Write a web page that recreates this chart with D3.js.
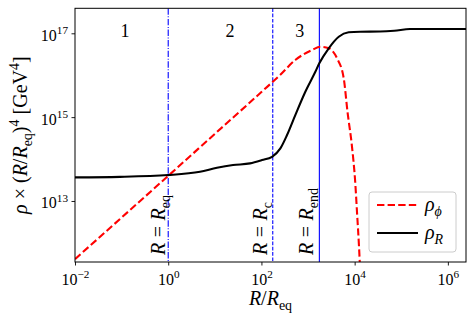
<!DOCTYPE html>
<html>
<head>
<meta charset="utf-8">
<script src="https://cdn.jsdelivr.net/npm/d3@7"></script>
<style>
  html, body { margin: 0; padding: 0; background: #fff; }
  svg { display: block; }
</style>
</head>
<body>
<svg id="chart" width="474" height="322"></svg>
<script>
// ---------------- data ----------------
// rho_R (radiation) : R / R_eq  and  rho x (R/R_eq)^4 in GeV^4
const radR   = [0.01, 0.0925, 1, 4.81, 11.1, 24.6, 56.9, 103, 169, 255, 354, 533, 875, 1435, 1746, 2780, 4560, 7460, 13060, 35100, 70800, 154500, 681000, 2450000];
const radRho = [3.66e13, 3.76e13, 4.15e13, 4.98e13, 6.19e13, 7.19e13, 7.89e13, 9.46e13, 1.135e14, 1.80e14, 3.74e14, 1.12e15, 4.04e15, 1.21e16, 1.92e16, 4.39e16, 8.30e16, 1.057e17, 1.09e17, 1.10e17, 1.15e17, 1.27e17, 1.27e17, 1.27e17];
// rho_phi (scalar field)
const phiR   = [0.01, 1, 10, 100, 251, 533, 1219, 1837, 2780, 4190, 5830, 7080, 8790, 10210, 11270, 12420, 13710];
const phiRho = [4.1e11, 3.98e13, 3.98e14, 3.98e15, 1.01e16, 2.31e16, 3.99e16, 4.79e16, 4.39e16, 2.53e16, 8.43e15, 1.25e15, 1.93e14, 3.16e13, 5.14e12, 7.94e11, 7.4e10];

// vertical markers
const markerR     = [1, 175, 1750];
const markerSub   = ["eq", "c", "end"];
const markerStyle = ["dashdot", "dashed", "solid"];

// region numbers
const regionText = ["1", "2", "3"];
const regionR    = [0.118, 21.2, 660];

// ticks
const xTicks = [1e-2, 1e0, 1e2, 1e4, 1e6];
const xTickExp = ["\u22122", "0", "2", "4", "6"];
const yTicks = [1e13, 1e15, 1e17];
const yTickExp = ["13", "15", "17"];

// ---------------- layout ----------------
const FONT = "'Liberation Serif', 'Times New Roman', 'DejaVu Serif', serif";
const L = 75, R = 466, T = 8.3, B = 262;
const svg = d3.select("#chart");

const x = d3.scaleLog().domain([1e-2, 2.45e6]).range([L, R]);
const y = d3.scaleLog().domain([3.5e11, 3.95e17]).range([B, T]);

function newText(parent) {
  return parent.append("text").attr("font-family", FONT).attr("fill", "#000");
}

// math text helper
function mathText(sel, parts, size) {
  let off = 0;
  sel.attr("font-family", FONT).attr("fill", "#000");
  parts.forEach(p => {
    let target = 0, fs = size;
    if (p.sub) { target = 0.24 * size; fs = 0.7 * size; }
    if (p.sup) { target = -0.42 * size; fs = 0.7 * size; }
    const ts = sel.append("tspan").text(p.t)
      .attr("font-family", FONT)
      .attr("font-size", fs)
      .attr("font-style", p.i ? "italic" : "normal");
    if (target - off !== 0) ts.attr("dy", target - off);
    if (p.dx) ts.attr("dx", p.dx);
    off = target;
  });
}

// clip
svg.append("defs").append("clipPath").attr("id", "clip")
  .append("rect").attr("x", L).attr("y", T).attr("width", R - L).attr("height", B - T);

const plot = svg.append("g").attr("clip-path", "url(#clip)");

// vertical markers
const dashMap = { dashdot: "6.4,1.6,1,1.6", dashed: "3.7,1.6", solid: null };
markerR.forEach((m, i) => {
  plot.append("line")
    .attr("x1", x(m)).attr("x2", x(m)).attr("y1", T).attr("y2", B)
    .attr("stroke", "#0000ff").attr("stroke-width", 1.1)
    .attr("stroke-dasharray", dashMap[markerStyle[i]]);
});

// curves
const line = d3.line().x(d => x(d[0])).y(d => y(d[1])).curve(d3.curveMonotoneX);
plot.append("path")
  .datum(phiR.map((r, i) => [r, phiRho[i]]))
  .attr("d", line).attr("fill", "none")
  .attr("stroke", "#ff0000").attr("stroke-width", 2.1)
  .attr("stroke-dasharray", "7.4,3.2");
plot.append("path")
  .datum(radR.map((r, i) => [r, radRho[i]]))
  .attr("d", line).attr("fill", "none")
  .attr("stroke", "#000").attr("stroke-width", 2.1);

// marker labels (rotated)
const markerDx = [-3.3, -5.7, -6];
markerR.forEach((m, i) => {
  const t = newText(svg)
    .attr("transform", `translate(${x(m) + markerDx[i]},255) rotate(-90)`)
    .attr("text-anchor", "start");
  mathText(t, [
    { t: "R", i: true },
    { t: "=", dx: 5.5 },
    { t: "R", i: true, dx: 5.5 },
    { t: markerSub[i], sub: true }
  ], 20);
});

// region labels
regionText.forEach((s, i) => {
  newText(svg).attr("x", x(regionR[i])).attr("y", 37)
    .attr("text-anchor", "middle").attr("font-size", 18).text(s);
});

// axes
const xAxis = svg.append("g").attr("transform", `translate(0,${B})`)
  .call(d3.axisBottom(x).tickValues(xTicks).tickSize(3.5).tickFormat(""));
xAxis.select(".domain").remove();
xAxis.selectAll(".tick line").attr("stroke", "#000").attr("stroke-width", 0.9);
xAxis.selectAll(".tick").each(function(d, i) {
  const t = newText(d3.select(this))
    .attr("y", 23).attr("text-anchor", "middle");
  mathText(t, [{ t: "10" }, { t: xTickExp[i], sup: true }], 16);
});

const yAxis = svg.append("g").attr("transform", `translate(${L},0)`)
  .call(d3.axisLeft(y).tickValues(yTicks).tickSize(3.5).tickFormat(""));
yAxis.select(".domain").remove();
yAxis.selectAll(".tick line").attr("stroke", "#000").attr("stroke-width", 0.9);
yAxis.selectAll(".tick").each(function(d, i) {
  const t = newText(d3.select(this))
    .attr("x", -7).attr("y", 7).attr("text-anchor", "end");
  mathText(t, [{ t: "10" }, { t: yTickExp[i], sup: true }], 16);
});

// frame
svg.append("rect").attr("x", L).attr("y", T).attr("width", R - L).attr("height", B - T)
  .attr("fill", "none").attr("stroke", "#000").attr("stroke-width", 1);

// axis labels
const xl = newText(svg).attr("x", (L + R) / 2).attr("y", 305).attr("text-anchor", "middle");
mathText(xl, [{ t: "R", i: true }, { t: "/" }, { t: "R", i: true }, { t: "eq", sub: true }], 20);

const yl = newText(svg).attr("transform", `translate(27,${(T + B) / 2}) rotate(-90)`)
  .attr("text-anchor", "middle");
mathText(yl, [
  { t: "\u03c1", i: true }, { t: " \u00d7 (" }, { t: "R", i: true }, { t: "/" }, { t: "R", i: true },
  { t: "eq", sub: true }, { t: ")" }, { t: "4", sup: true }, { t: " [GeV" }, { t: "4", sup: true }, { t: "]" }
], 20);

// legend
const lg = svg.append("g");
lg.append("rect").attr("x", 369).attr("y", 192).attr("width", 87).attr("height", 60)
  .attr("rx", 3).attr("fill", "#fff").attr("fill-opacity", 0.8)
  .attr("stroke", "#cccccc").attr("stroke-width", 1);
const legItems = [
  { color: "#ff0000", dash: "7.4,3.2", sub: "\u03d5", subI: true, yy: 205 },
  { color: "#000", dash: null, sub: "R", subI: true, yy: 233 }
];
legItems.forEach(it => {
  lg.append("line").attr("x1", 377).attr("x2", 418).attr("y1", it.yy).attr("y2", it.yy)
    .attr("stroke", it.color).attr("stroke-width", 2.1).attr("stroke-dasharray", it.dash);
  const t = newText(lg).attr("x", 425).attr("y", it.yy + 6);
  mathText(t, [{ t: "\u03c1", i: true }, { t: it.sub, i: it.subI, sub: true }], 20);
});
</script>
</body>
</html>
